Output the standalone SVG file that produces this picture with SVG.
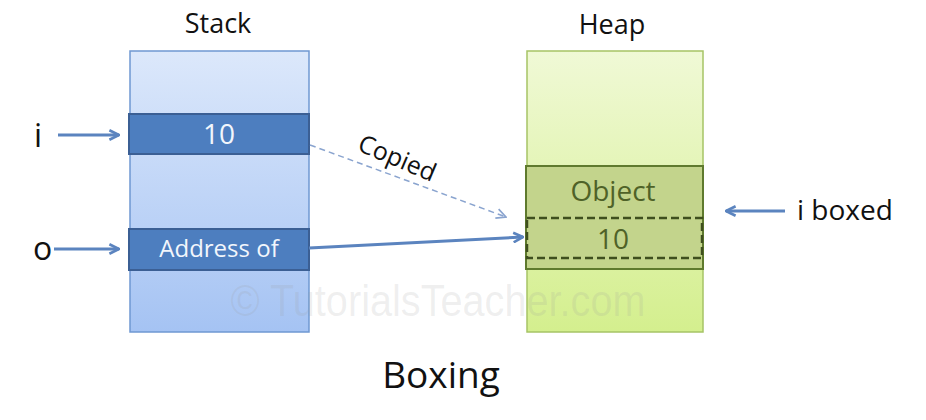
<svg xmlns="http://www.w3.org/2000/svg" width="926" height="420" viewBox="0 0 926 420">
<defs>
<linearGradient id="gStack" x1="0" y1="0" x2="0" y2="1">
<stop offset="0" stop-color="#dce8fb"/>
<stop offset="1" stop-color="#a5c3f3"/>
</linearGradient>
<linearGradient id="gHeap" x1="0" y1="0" x2="0" y2="1">
<stop offset="0" stop-color="#f0f9d6"/>
<stop offset="1" stop-color="#d4ef8e"/>
</linearGradient>
<marker id="ah" markerWidth="12" markerHeight="12" refX="9" refY="5" orient="auto" markerUnits="userSpaceOnUse" viewBox="0 0 10 10">
<path d="M1,1 L9,5 L1,9" fill="none" stroke="#5b84bf" stroke-width="2.2"/>
</marker>
<marker id="ahd" markerWidth="12" markerHeight="12" refX="9" refY="5" orient="auto" markerUnits="userSpaceOnUse" viewBox="0 0 10 10">
<path d="M1,1 L9,5 L1,9" fill="none" stroke="#8aa4cf" stroke-width="1.4"/>
</marker>
</defs>
<style>
.t{font-family:"Open Sans","Liberation Sans",sans-serif;fill:#111}
.w{font-family:"Open Sans","Liberation Sans",sans-serif;fill:#f2f6fc}
.g{font-family:"Open Sans","Liberation Sans",sans-serif;fill:#4f6228}
.bar{fill:#4d7ebf;stroke:#3b5f94;stroke-width:2}
.arr{stroke:#5b84bf;stroke-width:3;fill:none}
</style>
<rect width="926" height="420" fill="#ffffff"/>

<g id="stack">
<text class="t" x="218" y="33" font-size="27" text-anchor="middle">Stack</text>
<rect x="130" y="51" width="179" height="281" fill="url(#gStack)" stroke="#6f98d2" stroke-width="1.5"/>
</g>
<g id="stack-i">
<rect class="bar" x="129" y="114" width="180" height="40"/>
<text class="w" x="219" y="144" font-size="28" text-anchor="middle">10</text>
</g>
<g id="stack-o">
<rect class="bar" x="129" y="229" width="180" height="41"/>
<text class="w" x="219" y="257" font-size="24" text-anchor="middle">Address of</text>
</g>

<g id="heap">
<text class="t" x="612" y="34" font-size="27" text-anchor="middle">Heap</text>
<rect x="527" y="51" width="176" height="281" fill="url(#gHeap)" stroke="#a6c466" stroke-width="1.5"/>
</g>
<g id="object">
<rect x="526" y="166" width="177" height="103" fill="#c3d48c" stroke="#5f7a2e" stroke-width="2"/>
<text class="g" x="613" y="201" font-size="28" text-anchor="middle">Object</text>
<rect x="527" y="218" width="175" height="40" fill="none" stroke="#3f4f1e" stroke-width="2.5" stroke-dasharray="8,4"/>
<text class="g" x="613" y="249" font-size="28" text-anchor="middle">10</text>
</g>

<text x="438" y="316" font-family="'Liberation Sans Narrow','Liberation Sans',sans-serif" font-size="44" fill="#9a9a9a" fill-opacity="0.16" text-anchor="middle" textLength="415" lengthAdjust="spacingAndGlyphs">© TutorialsTeacher.com</text>

<g id="label-i">
<text class="t" x="34" y="147" font-size="32">i</text>
</g>
<g id="label-o">
<text class="t" x="33" y="260" font-size="32">o</text>
</g>
<g id="label-iboxed">
<text class="t" x="797" y="220" font-size="28">i boxed</text>
</g>

<g id="connectors">
<line class="arr" x1="58" y1="135" x2="119" y2="135" marker-end="url(#ah)"/>
<line class="arr" x1="54" y1="249" x2="119" y2="249" marker-end="url(#ah)"/>
<line class="arr" x1="785" y1="211" x2="726" y2="211" marker-end="url(#ah)"/>
<line class="arr" x1="309" y1="248" x2="523" y2="237" marker-end="url(#ah)"/>
<line x1="310" y1="145" x2="506" y2="217" stroke="#8aa4cf" stroke-width="1.5" stroke-dasharray="6,4" marker-end="url(#ahd)"/>
<text class="t" x="394" y="166" font-size="25" text-anchor="middle" transform="rotate(23 394 166)">Copied</text>
</g>

<g id="title">
<text class="t" x="441" y="388" font-size="37" text-anchor="middle">Boxing</text>
</g>
</svg>
